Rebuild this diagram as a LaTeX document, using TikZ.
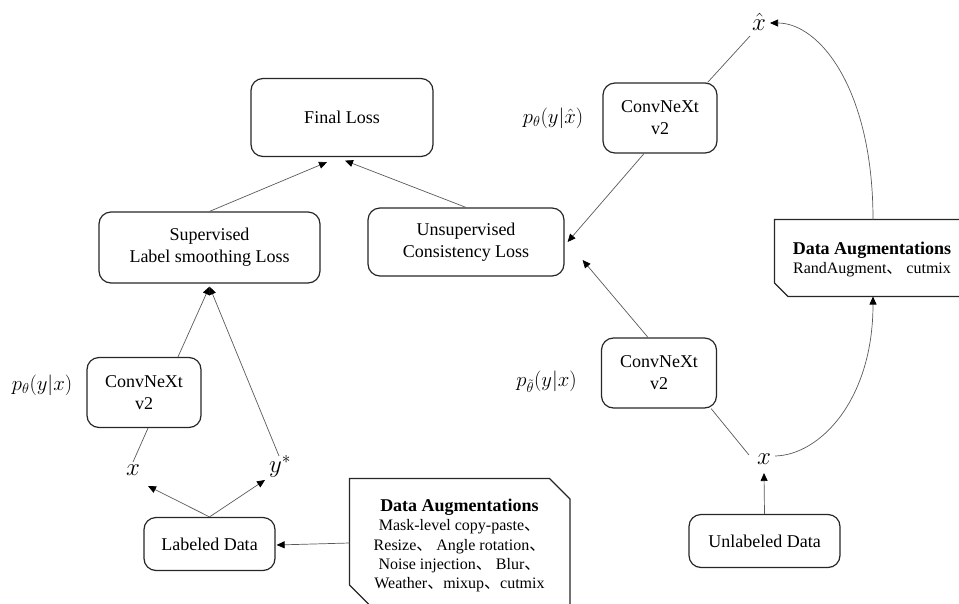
\documentclass[tikz,border=0pt]{standalone}
\usepackage{fontspec}
\setmainfont{Liberation Serif}
\newfontfamily\cjk{Noto Sans CJK SC}
\usetikzlibrary{arrows.meta,calc}
\newcommand{\dun}{{\cjk 、}}
\begin{document}
\begin{tikzpicture}[x=1pt,y=-1pt,
  box/.style={draw=black!85, line width=1.2pt, rounded corners=12pt, align=center,
    font=\fontsize{18}{22}\selectfont, inner sep=0pt},
  augshape/.style={draw=black!85, line width=1.2pt},
  augtext/.style={align=center, inner sep=0pt, font=\fontsize{16}{19.3}\selectfont},
  conn/.style={draw=black!65, line width=0.7pt},
  arr/.style={conn, -{Triangle[length=8pt,width=7pt,color=black]}},
  lbl/.style={inner sep=0pt, font=\fontsize{20}{24}\selectfont},
  var/.style={inner sep=0pt, font=\fontsize{24}{28}\selectfont},
]
\clip (0,0) rectangle (959,603);

% boxes
\node[box, minimum width=182pt, minimum height=78pt] (final) at (342,117.5) {Final Loss};
\node[box, minimum width=221pt, minimum height=71pt] (sup) at (209.5,247.5) {Supervised\\Label smoothing Loss};
\node[box, minimum width=196pt, minimum height=68pt] (unsup) at (466,242) {Unsupervised\\Consistency Loss};
\node[box, minimum width=114pt, minimum height=70pt] (cnA) at (660,118) {ConvNeXt\\v2};
\node[box, minimum width=115pt, minimum height=70pt] (cnB) at (659,373) {ConvNeXt\\v2};
\node[box, minimum width=114pt, minimum height=70pt] (cnL) at (144,392.5) {ConvNeXt\\v2};
\node[box, minimum width=131pt, minimum height=53pt] (lab) at (209.5,544) {Labeled Data};
\node[box, minimum width=151pt, minimum height=53pt] (unlab) at (764.5,541) {Unlabeled Data};

% augmentation boxes
\draw[augshape] (349.5,478.5) -- (549.5,478.5) -- (570,499) -- (570,606) -- (370.5,606) -- (349.5,585) -- cycle;
\coordinate (augLw) at (349.5,543);
\node[augtext, anchor=north] (augLt) at (459.5,499)
  {{\bfseries\fontsize{18}{19.3}\selectfont Data Augmentations}\\
   Mask-level copy-paste\dun\\
   Resize\dun{} Angle rotation\dun\\
   Noise injection\dun{} Blur\dun\\
   Weather\dun mixup\dun cutmix};

\draw[augshape] (980,219.5) -- (774.5,219.5) -- (774.5,283) -- (788,296.5) -- (980,296.5);
\coordinate (augRn) at (873,219.5);
\coordinate (augRs) at (873,296.5);
\node[augtext, anchor=north] (augRt) at (872,242)
  {{\bfseries\fontsize{18}{19.3}\selectfont Data Augmentations}\\
   RandAugment\dun{} cutmix};

% math labels
\node[lbl] (pL) at (42,385) {$p_\theta(y|x)$};
\node[lbl] (pA) at (553,118) {$p_\theta(y|\hat{x})$};
\node[lbl] (pB) at (546.5,382) {$p_{\tilde{\theta}}(y|x)$};
\node[var] (xL) at (133,470) {$x$};
\node[var] (ys) at (280,466) {$y^*$};
\node[var] (xh) at (759,22) {$\hat{x}$};
\node[var] (xR) at (764,459) {$x$};

% connectors
\draw[arr] (sup.north) -- ($(final.south)+(-15,5)$);
\draw[arr] (unsup.north) -- ($(final.south)+(3,3.5)$);
\draw[arr] ($(cnA.south)+(-16,0)$) -- ($(unsup.east)+(3,0)$);
\draw[arr] ($(cnB.north)+(-11,0)$) -- ($(unsup.east)+(18,18)$);
\draw[conn] ($(cnA.north east)+(-10,0)$) -- ($(xh)+(-9,14)$);
\draw[arr] (augRn) .. controls (873,90) and (820,23) .. ($(xh)+(11,1)$);
\draw[arr] ($(xR)+(11,-3)$) .. controls (820,455) and (873,400) .. (augRs);
\draw[conn] ($(xR)+(-15,-4)$) -- ($(cnB.south east)+(-6,0)$);
\draw[arr] (unlab.north) -- ($(xR)+(0,14)$);
\draw[conn] ($(xL)+(0,-8)$) -- ($(cnL.south)+(4,0)$);
\draw[arr] ($(cnL.north)+(34,0)$) -- ($(sup.south)+(0,3)$);
\draw[arr] ($(ys)+(-1,-10)$) -- ($(sup.south)+(0,3)$);
\draw[arr] (lab.north) -- ($(xL)+(15,16)$);
\draw[arr] (lab.north) -- ($(ys)+(-15,14)$);
\draw[arr] (augLw) -- ($(lab.east)+(1,1)$);
\end{tikzpicture}
\end{document}
